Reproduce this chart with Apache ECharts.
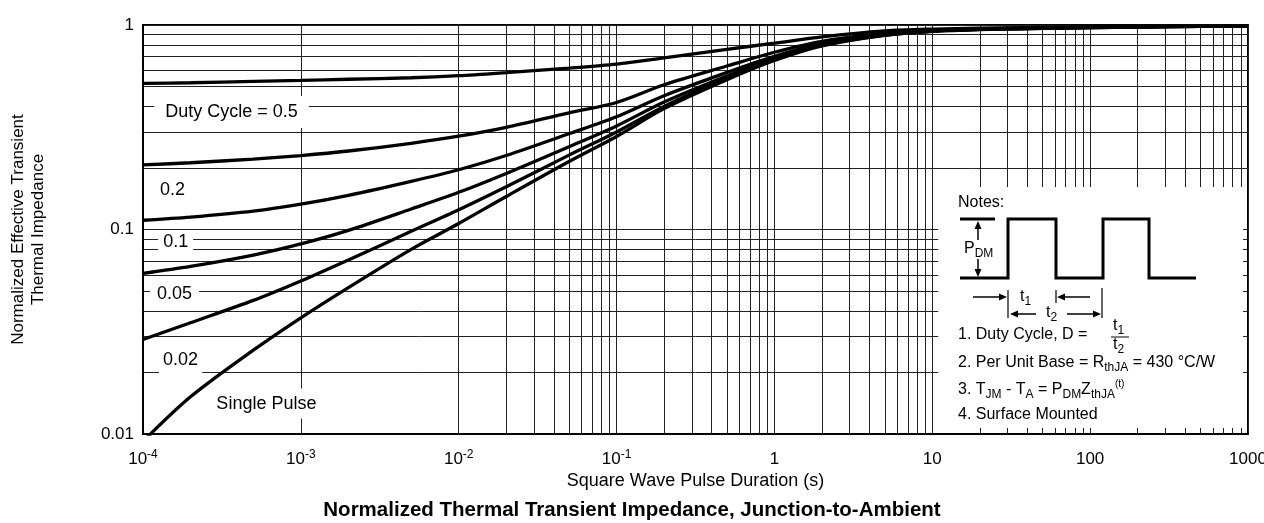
<!DOCTYPE html>
<html>
<head>
<meta charset="utf-8">
<title>Normalized Thermal Transient Impedance</title>
<script src="https://cdn.jsdelivr.net/npm/echarts@6/dist/echarts.min.js"></script>
<style>
html, body { margin: 0; padding: 0; background: #fff; }
#chart { width: 1264px; height: 523px; }
</style>
</head>
<body>
<div id="chart"></div>
<script>
// pulse durations (s), shared by all the curves
const pulseTimes = [1e-4, 2e-4, 5e-4, 1e-3, 2e-3, 5e-3, 1e-2, 2e-2, 5e-2, 0.1, 0.2, 0.5, 1, 2, 5, 10, 20, 50, 100, 200, 500, 1000];

// normalized Zth, one array per duty cycle
const duty05 = [0.518, 0.522, 0.53, 0.536, 0.543, 0.552, 0.565, 0.585, 0.615, 0.643, 0.69, 0.76, 0.815, 0.875, 0.935, 0.955, 0.965, 0.972, 0.977, 0.982, 0.988, 0.992];
const duty02 = [0.207, 0.212, 0.221, 0.23, 0.242, 0.264, 0.286, 0.316, 0.372, 0.418, 0.51, 0.63, 0.736, 0.832, 0.912, 0.944, 0.96, 0.969, 0.976, 0.981, 0.988, 0.992];
const duty01 = [0.111, 0.115, 0.123, 0.133, 0.147, 0.172, 0.196, 0.23, 0.294, 0.356, 0.451, 0.586, 0.703, 0.811, 0.9, 0.937, 0.955, 0.966, 0.973, 0.979, 0.986, 0.99];
const duty005 = [0.061, 0.066, 0.075, 0.085, 0.099, 0.126, 0.152, 0.188, 0.254, 0.321, 0.42, 0.563, 0.686, 0.8, 0.895, 0.934, 0.952, 0.964, 0.971, 0.978, 0.985, 0.99];
const duty002 = [0.029, 0.035, 0.045, 0.056, 0.071, 0.098, 0.125, 0.162, 0.231, 0.3, 0.4, 0.55, 0.677, 0.795, 0.892, 0.932, 0.951, 0.963, 0.971, 0.978, 0.985, 0.99];
const singlePulse = [0.0092, 0.0152, 0.0257, 0.037, 0.052, 0.08, 0.107, 0.145, 0.215, 0.285, 0.39, 0.54, 0.67, 0.79, 0.89, 0.93, 0.95, 0.962, 0.97, 0.977, 0.985, 0.99];

const curveNames = ['Duty Cycle = 0.5', '0.2', '0.1', '0.05', '0.02', 'Single Pulse'];
const curveValues = [duty05, duty02, duty01, duty005, duty002, singlePulse];

// in-plot curve labels (data coordinates)
const labelTimes = [3.64e-4, 1.54e-4, 1.61e-4, 1.585e-4, 1.73e-4, 6.05e-4];
const labelValues = [0.3755, 0.156, 0.0869, 0.0481, 0.023, 0.01409];
const labelPads = [[7, 11], [3, 4], [1, 5], [3, 7], [4, 4], [6, 5]];

// grid: decades and the 2..9 lines between them
const xDecades = [1e-4, 1e-3, 1e-2, 1e-1, 1, 10, 100];
const yDecades = [0.01, 0.1];
const minorMults = [2, 3, 4, 5, 6, 7, 8, 9];

// notes box corners (data coordinates)
const notesFrom = [10.9, 0.1614];
const notesTo = [929, 0.0107];

const FONT = '"Liberation Sans", Arial, Helvetica, sans-serif';

let xMinor = [];
xDecades.forEach(d => minorMults.forEach(m => xMinor.push(d * m)));
let yMinor = [];
yDecades.forEach(d => minorMults.forEach(m => yMinor.push(d * m)));

function arrow(x1, y1, x2, y2) {
    // shaft from (x1,y1), filled head with its tip at (x2,y2)
    let ang = Math.atan2(y2 - y1, x2 - x1);
    let len = 8, half = 3.5;
    let bx = x2 - len * Math.cos(ang), by = y2 - len * Math.sin(ang);
    let px = -Math.sin(ang) * half, py = Math.cos(ang) * half;
    return [
        { type: 'line', z: 100, shape: { x1: x1, y1: y1, x2: bx, y2: by }, style: { stroke: '#000', lineWidth: 1.5 } },
        { type: 'polygon', z: 100, shape: { points: [[x2, y2], [bx + px, by + py], [bx - px, by - py]] }, style: { fill: '#000' } }
    ];
}

function line(x1, y1, x2, y2, w) {
    return { type: 'line', z: 100, shape: { x1: x1, y1: y1, x2: x2, y2: y2 }, style: { stroke: '#000', lineWidth: w } };
}

const noteRich = {
    sub: { fontSize: 12, lineHeight: 12, verticalAlign: 'bottom', fontFamily: FONT, fill: '#000' },
    sup: { fontSize: 10, lineHeight: 11, verticalAlign: 'top', fontFamily: FONT, fill: '#000' }
};

function note(x, y, text) {
    return {
        type: 'text', z: 100, x: x, y: y,
        style: { text: text, fontSize: 16, lineHeight: 22, fontFamily: FONT, fill: '#000', verticalAlign: 'middle', rich: noteRich }
    };
}

let notesGraphic = [
    note(958, 203, 'Notes:'),
    line(960, 219, 995, 219, 3),
    ...arrow(978, 240, 978, 221),
    ...arrow(978, 259, 978, 277),
    note(964, 249, 'P{sub|DM}'),
    { type: 'polyline', z: 100, shape: { points: [[960, 278], [1008, 278], [1008, 219], [1056, 219], [1056, 278], [1103, 278], [1103, 219], [1149, 219], [1149, 278], [1196, 278]] },
      style: { stroke: '#000', lineWidth: 3, fill: null } },
    ...arrow(973, 297, 1007, 297),
    ...arrow(1090, 297, 1057, 297),
    line(1008, 290, 1008, 318, 1.2),
    line(1056, 290, 1056, 303, 1.2),
    note(1020, 297, 't{sub|1}'),
    ...arrow(1036, 314, 1010, 314),
    ...arrow(1067, 314, 1101, 314),
    line(1102, 288, 1102, 318, 1.2),
    note(1046, 313, 't{sub|2}'),
    note(958, 335, '1. Duty Cycle, D ='),
    note(1113, 326, 't{sub|1}'),
    line(1111, 337, 1129, 337, 1),
    note(1113, 345, 't{sub|2}'),
    note(958, 363, '2. Per Unit Base = R{sub|thJA} = 430 \u00B0C/W'),
    note(958, 390, '3. T{sub|JM} - T{sub|A} = P{sub|DM}Z{sub|thJA}{sup|(t)}'),
    note(958, 415, '4. Surface Mounted')
];

let series = [{
    type: 'line',
    name: 'grid',
    data: [],
    silent: true,
    markLine: {
        silent: true,
        z: 1,
        symbol: ['none', 'none'],
        animation: false,
        label: { show: false },
        lineStyle: { color: '#222', width: 1, type: 'solid' },
        emphasis: { disabled: true },
        data: xMinor.map(v => ({ xAxis: v })).concat(yMinor.map(v => ({ yAxis: v })))
    },
    markArea: {
        silent: true,
        z: 2,
        animation: false,
        itemStyle: { color: '#fff', borderWidth: 0 },
        emphasis: { disabled: true },
        data: [[{ coord: notesFrom }, { coord: notesTo }]]
    }
}, {
    type: 'scatter',
    name: 'labels',
    z: 3,
    silent: true,
    symbolSize: 1,
    itemStyle: { color: '#fff', opacity: 1 },
    label: {
        show: true,
        position: 'inside',
        color: '#000',
        opacity: 1,
        textBorderWidth: 0,
        fontSize: 18,
        lineHeight: 18,
        fontFamily: FONT,
        backgroundColor: '#fff'
    },
    data: labelTimes.map((t, i) => ({
        value: [t, labelValues[i]],
        label: { formatter: curveNames[i], padding: labelPads[i] }
    }))
}];

curveValues.forEach((vals, i) => {
    series.push({
        type: 'line',
        name: curveNames[i],
        data: pulseTimes.map((t, j) => [t, vals[j]]),
        showSymbol: false,
        symbol: 'none',
        smooth: 0.3,
        clip: true,
        silent: true,
        z: 5,
        lineStyle: { color: '#000', width: 3.3 }
    });
});

let option = {
    animation: false,
    backgroundColor: '#fff',
    textStyle: { fontFamily: FONT },
    title: {
        text: 'Normalized Thermal Transient Impedance, Junction-to-Ambient',
        left: 'center',
        top: 495,
        textStyle: { fontFamily: FONT, fontSize: 20.5, fontWeight: 'bold', color: '#000' }
    },
    grid: {
        left: 143, right: 16, top: 25, bottom: 89,
        containLabel: false,
        outerBoundsMode: 'none',
        show: true,
        borderColor: '#000',
        borderWidth: 2
    },
    xAxis: {
        type: 'log',
        logBase: 10,
        min: 1e-4,
        max: 1000,
        splitNumber: 7,
        name: 'Square Wave Pulse Duration (s)',
        nameLocation: 'middle',
        nameGap: 36,
        nameTextStyle: { fontSize: 18, color: '#000', fontFamily: FONT },
        axisLine: { lineStyle: { color: '#000', width: 2 } },
        axisTick: { show: false },
        splitLine: { show: true, lineStyle: { color: '#222', width: 1 } },
        axisLabel: {
            margin: 15,
            color: '#000',
            showMinLabel: true,
            showMaxLabel: true,
            formatter: function (v) {
                let e = Math.round(Math.log10(v));
                if (e < 0) return '{base|10}{sup|' + e + '}';
                return '{base|' + Math.round(v) + '}';
            },
            rich: {
                base: { fontSize: 17, lineHeight: 20, fontFamily: FONT, color: '#000' },
                sup: { fontSize: 12, lineHeight: 12, verticalAlign: 'top', fontFamily: FONT, color: '#000' }
            }
        }
    },
    yAxis: {
        type: 'log',
        logBase: 10,
        min: 0.01,
        max: 1,
        splitNumber: 2,
        name: 'Normalized Effective Transient\nThermal Impedance',
        nameLocation: 'middle',
        nameGap: 95,
        nameTextStyle: { fontSize: 17, lineHeight: 20, color: '#000', fontFamily: FONT },
        axisLine: { lineStyle: { color: '#000', width: 2 } },
        axisTick: { show: false },
        splitLine: { show: true, lineStyle: { color: '#222', width: 1 } },
        axisLabel: {
            margin: 9,
            color: '#000',
            fontSize: 17,
            fontFamily: FONT,
            showMinLabel: true,
            showMaxLabel: true,
            formatter: function (v) {
                let e = Math.round(Math.log10(v));
                return e === 0 ? '1' : (e === -1 ? '0.1' : '0.01');
            }
        }
    },
    graphic: notesGraphic,
    series: series
};

let myChart = echarts.init(document.getElementById('chart'), null, { renderer: 'canvas' });
myChart.setOption(option);
</script>
</body>
</html>
